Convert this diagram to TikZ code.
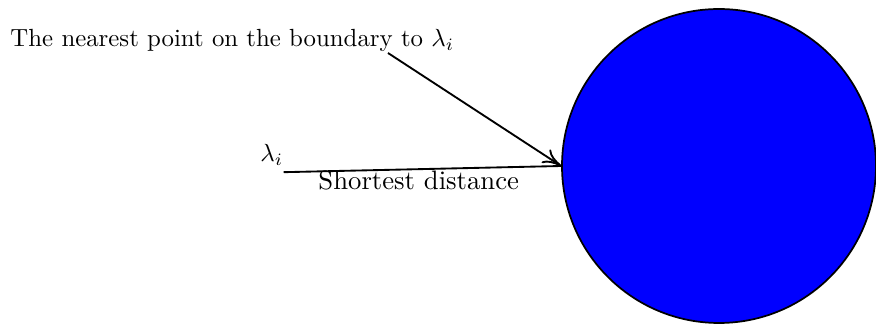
\documentclass[tikz,border=0pt]{standalone}
\usepackage{amsmath}
\usetikzlibrary{positioning,calc,arrows.meta}

\begin{document}
\begin{tikzpicture}[
  x=0.01416cm, y=-0.01416cm,
  disc/.style={circle, draw=black, fill=blue, line width=0.7pt, minimum size=4.446cm, inner sep=0pt},
  txt/.style={inner sep=0pt},
  pointer/.style={-{To[length=7.5pt,width=6.5pt]}, line width=0.75pt}
]
\useasboundingbox (0,0) rectangle (876,326);

\node[disc] (blob) at (719,166) {};

\node[txt, anchor=base west] (near) at (10,47) {The nearest point on the boundary to $\lambda_i$};
\node[txt, anchor=base west] (lam) at (260,162) {$\lambda_i$};
\node[txt, anchor=base west, font=\fontsize{10.75}{13}\selectfont] (dist) at (318,190) {Shortest distance};

% tail of the pointer, just under the label
\coordinate (tail) at (388,53);

\draw[pointer] (tail) -- (blob.west);
\draw[line width=0.75pt] ([yshift=-2.4pt]lam.south east) -- (blob.west);
\end{tikzpicture}
\end{document}
